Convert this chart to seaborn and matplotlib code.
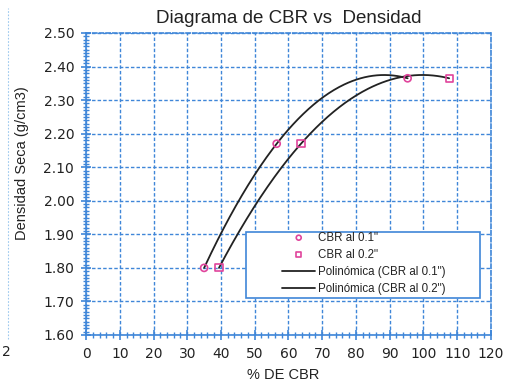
import numpy as np
import pandas as pd
import matplotlib
matplotlib.use("Agg")
import matplotlib.pyplot as plt
import seaborn as sns
from matplotlib.ticker import MultipleLocator
from matplotlib.patches import Rectangle

# CBR test results: % CBR vs dry density
cbr_01 = [35.0, 56.5, 95.3]
dens_01 = [1.80, 2.17, 2.365]
cbr_02 = [39.4, 63.7, 107.6]
dens_02 = [1.80, 2.17, 2.365]

x_ticks = [0, 10, 20, 30, 40, 50, 60, 70, 80, 90, 100, 110, 120]
y_ticks = [1.60, 1.70, 1.80, 1.90, 2.00, 2.10, 2.20, 2.30, 2.40, 2.50]

sns.set_theme(style="white")
plt.rcParams["font.family"] = ["Liberation Sans", "DejaVu Sans"]

blue = "#3f86d8"
pink = "#e0449c"
ink = "#222222"

fig = plt.figure(figsize=(5.08, 3.85), dpi=100)
ax = fig.add_axes([0.1693, 0.1299, 0.7972, 0.7844])

# second-order polynomial trendlines through each series
def trend(xs, ys):
    c = np.polyfit(xs, ys, 2)
    xx = np.linspace(min(xs), max(xs), 200)
    return pd.DataFrame({"x": xx, "y": np.polyval(c, xx)})

t1 = trend(cbr_01, dens_01)
t2 = trend(cbr_02, dens_02)

df1 = pd.DataFrame({"x": cbr_01, "y": dens_01})
df2 = pd.DataFrame({"x": cbr_02, "y": dens_02})

sns.scatterplot(data=df1, x="x", y="y", ax=ax, marker="o", s=26,
                facecolor="none", edgecolor=pink, linewidth=1.2,
                label='CBR al 0.1"', zorder=4)
sns.scatterplot(data=df2, x="x", y="y", ax=ax, marker="s", s=26,
                facecolor="none", edgecolor=pink, linewidth=1.2,
                label='CBR al 0.2"', zorder=4)
sns.lineplot(data=t1, x="x", y="y", ax=ax, color=ink, lw=1.3,
             label='Polinómica (CBR al 0.1")', zorder=3)
sns.lineplot(data=t2, x="x", y="y", ax=ax, color=ink, lw=1.3,
             label='Polinómica (CBR al 0.2")', zorder=3)

ax.set_xlim(0, 120)
ax.set_ylim(1.60, 2.50)
ax.set_xticks(x_ticks)
ax.set_yticks(y_ticks)
ax.set_yticklabels([f"{v:.2f}" for v in y_ticks])
ax.xaxis.set_minor_locator(MultipleLocator(2))
ax.yaxis.set_minor_locator(MultipleLocator(0.01))
ax.tick_params(axis="both", which="both", bottom=True, left=True,
               top=False, right=False)
ax.tick_params(axis="both", which="major", direction="inout", length=7,
               color=blue, width=1.2, labelsize=10, labelcolor=ink, pad=5)
ax.tick_params(axis="both", which="minor", direction="inout", length=5,
               color=blue, width=1.0)
for lab in ax.get_xticklabels() + ax.get_yticklabels():
    lab.set_family("DejaVu Sans")

ax.grid(True, which="major", color=blue, linestyle=(0, (2.5, 1.5)), linewidth=1.0)
for s in ax.spines.values():
    s.set_color(blue)
    s.set_linewidth(1.2)
    s.set_linestyle((0, (2.5, 1.5)))
ax.spines["left"].set_linestyle("-")
ax.spines["bottom"].set_linestyle("-")

ax.set_title("Diagrama de CBR vs  Densidad", fontsize=13.5, color=ink, pad=7.5)
ax.set_xlabel("% DE CBR", fontsize=10.5, color=ink)
ax.set_ylabel("Densidad Seca (g/cm3)", fontsize=10.5, color=ink)
ax.xaxis.set_label_coords(0.486, -0.11)
ax.yaxis.set_label_coords(-0.14, 0.57)

# legend box drawn separately, entries placed inside it
ax.add_patch(Rectangle((0.395, 0.1225), 0.578, 0.2185, transform=ax.transAxes,
                       facecolor="white", edgecolor=blue, lw=1.2, zorder=5))
leg = ax.legend(loc="upper left", bbox_to_anchor=(0.484, 0.342),
                fontsize=8.3, frameon=False, borderpad=0,
                labelspacing=0.45, handlelength=2.9,
                handletextpad=0.25, borderaxespad=0, markerscale=0.7)
leg.set_zorder(6)
for t in leg.get_texts():
    t.set_color(ink)

# fragment of the neighbouring sheet on the left edge
fig.add_artist(plt.Line2D([0.016, 0.016], [0.12, 0.98], transform=fig.transFigure,
                          color="#9cc8ee", lw=0.8, linestyle=(0, (1.5, 1.5))))
fig.text(0.004, 0.075, "2", fontsize=10, color=ink, family="DejaVu Sans")

fig.savefig("out.png", dpi=100)
